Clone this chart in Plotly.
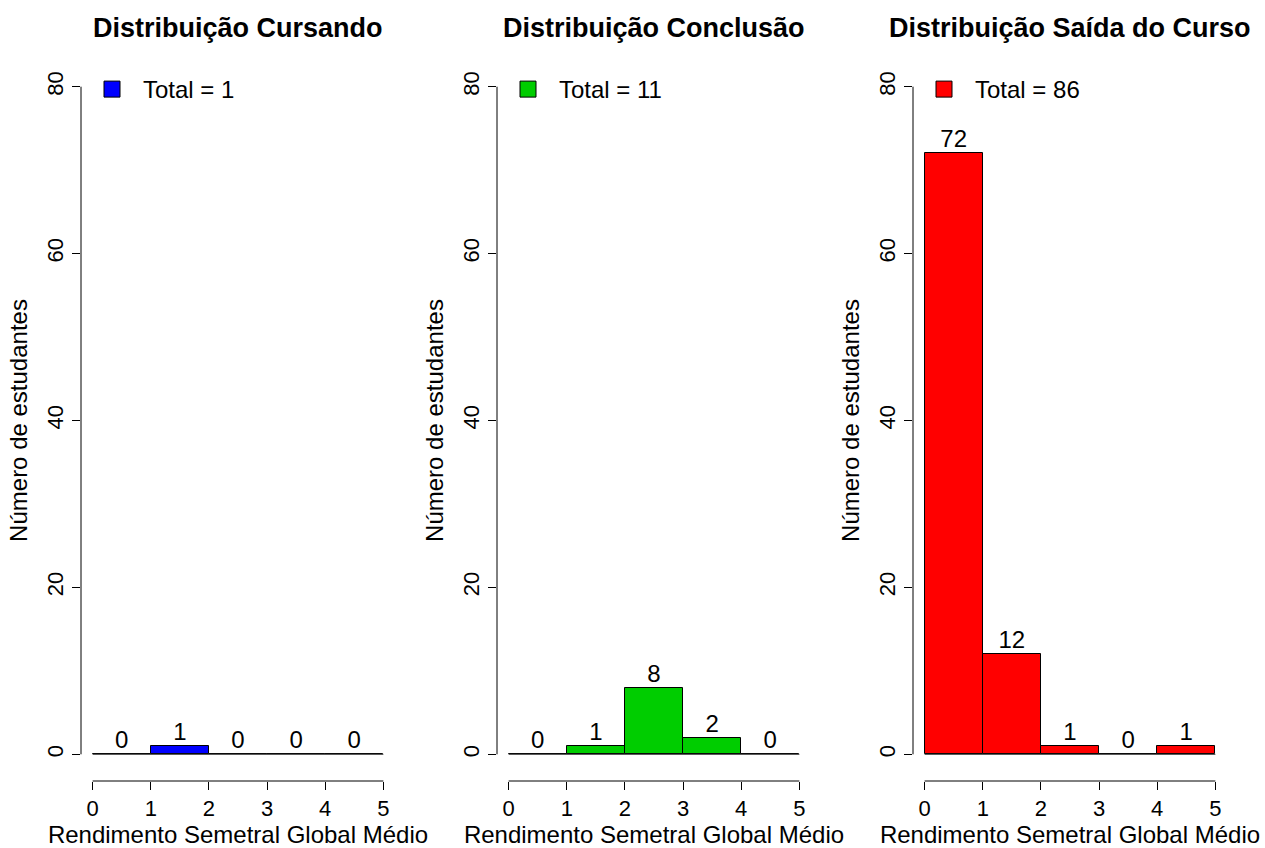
import plotly.graph_objects as go

# ---- data ----
bin_edges = [0, 1, 2, 3, 4, 5]
panel_titles = ["Distribuição Cursando", "Distribuição Conclusão", "Distribuição Saída do Curso"]
counts_cursando = [0, 1, 0, 0, 0]
counts_conclusao = [0, 1, 8, 2, 0]
counts_saida = [72, 12, 1, 0, 1]
panel_colors = ["#0000FF", "#00CD00", "#FF0000"]
x_ticks = [0, 1, 2, 3, 4, 5]
y_ticks = [0, 20, 40, 60, 80]
x_title = "Rendimento Semetral Global Médio"
y_title = "Número de estudantes"

series = [counts_cursando, counts_conclusao, counts_saida]

FONT = "Liberation Sans, Arial, Helvetica, sans-serif"
FS = 24      # axis titles / legend / bar labels
FTK = 22     # tick labels
FT = 27      # panel titles
W, H = 1265, 848

# plot regions in pixels (R-like layout)
px_left = [81, 497, 913]
px_width = 314
py_top, py_bottom = 60, 781

fig = go.Figure()

centers = [(a + b) / 2 for a, b in zip(bin_edges[:-1], bin_edges[1:])]
widths = [b - a for a, b in zip(bin_edges[:-1], bin_edges[1:])]

for i, (counts, color, title) in enumerate(zip(series, panel_colors, panel_titles)):
    ax = "" if i == 0 else str(i + 1)
    xa, ya = "x" + ax, "y" + ax
    leg = "legend" + ax
    # baseline (zero-height bins drawn as line)
    fig.add_trace(go.Scatter(x=[bin_edges[0], bin_edges[-1]], y=[0, 0], mode="lines",
                             line=dict(color="#333333", width=1), xaxis=xa, yaxis=ya,
                             showlegend=False, hoverinfo="skip"))
    fig.add_trace(go.Bar(x=centers, y=counts, width=widths, marker=dict(color=color, line=dict(color="black", width=1)),
                         xaxis=xa, yaxis=ya, showlegend=False))
    fig.add_trace(go.Scatter(x=centers, y=counts, text=[str(c) for c in counts], mode="text",
                             textposition="top center", textfont=dict(size=FS, color="black", family=FONT),
                             xaxis=xa, yaxis=ya, showlegend=False, hoverinfo="skip"))
    fig.add_trace(go.Scatter(x=[None], y=[None], mode="markers", name=f"Total = {sum(counts)}",
                             marker=dict(symbol="square", size=16, color=color, line=dict(color="black", width=1)),
                             xaxis=xa, yaxis=ya, legend=leg, showlegend=True))

    x0 = px_left[i] / W
    x1 = (px_left[i] + px_width) / W
    xd = dict(domain=[x0, x1], range=[-0.2, 5.2], tickvals=x_ticks, ticks="outside", ticklen=8,
              tickcolor="black", showline=False, showgrid=False, zeroline=False,
              tickfont=dict(size=FTK, family=FONT, color="black"),
              title=dict(text=x_title, font=dict(size=FS, family=FONT, color="black"), standoff=6),
              anchor=ya, fixedrange=True)
    yd = dict(domain=[1 - py_bottom / H, 1 - py_top / H], range=[-3.2, 83.2], tickvals=y_ticks, ticks="outside",
              ticklen=8, tickcolor="black", tickangle=-90, showline=False, showgrid=False, zeroline=False,
              tickfont=dict(size=FTK, family=FONT, color="black"),
              title=dict(text=y_title, font=dict(size=FS, family=FONT, color="black"), standoff=8),
              anchor=xa, fixedrange=True)
    fig.update_layout(**{"xaxis" + ax: xd, "yaxis" + ax: yd})

    # axis lines spanning tick range
    fig.add_shape(type="line", xref=xa, yref=ya + " domain", x0=x_ticks[0], x1=x_ticks[-1], y0=0, y1=0,
                  line=dict(color="black", width=1))
    fig.add_shape(type="line", xref=xa + " domain", yref=ya, x0=0, x1=0, y0=y_ticks[0], y1=y_ticks[-1],
                  line=dict(color="black", width=1))

    fig.add_annotation(text=f"<b>{title}</b>", xref=xa + " domain", yref="paper", x=0.5, y=1 - 28 / H,
                       showarrow=False, font=dict(size=FT, family=FONT, color="black"), yanchor="middle")

    fig.update_layout(**{leg: dict(x=(px_left[i]) / W, y=1 - 67 / H, xanchor="left", yanchor="top",
                                   bgcolor="rgba(0,0,0,0)", font=dict(size=FS, family=FONT, color="black"),
                                   itemsizing="trace", itemwidth=52)})

fig.update_layout(width=W, height=H, margin=dict(l=0, r=0, t=0, b=0), plot_bgcolor="white",
                  paper_bgcolor="white", bargap=0, font=dict(family=FONT, size=FS, color="black"),
                  barmode="overlay")

fig.write_html("out.html", post_script="document.body.style.margin='0px';",
               config={"displayModeBar": False})
